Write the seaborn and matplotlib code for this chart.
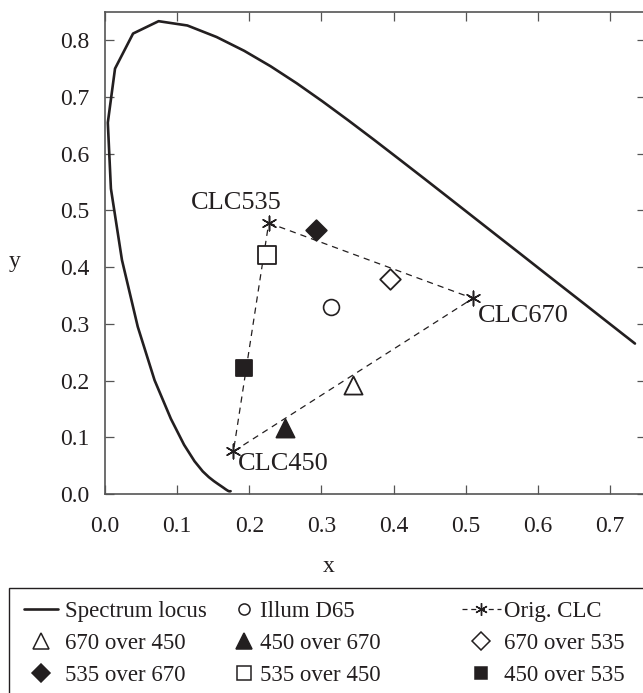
import matplotlib
matplotlib.use("Agg")
import matplotlib.pyplot as plt
from matplotlib.lines import Line2D
from matplotlib.patches import Rectangle
import seaborn as sns

# CIE 1931 spectrum locus (380-700 nm), as drawn
locus_x = [0.1741, 0.1738, 0.1733, 0.1726, 0.1714, 0.1703, 0.1689, 0.1669, 0.1644, 0.1611,
           0.1566, 0.1510, 0.1440, 0.1355, 0.1241, 0.1096, 0.0913, 0.0687, 0.0454, 0.0235,
           0.0082, 0.0039, 0.0139, 0.0389, 0.0743, 0.1142, 0.1547, 0.1929, 0.2296, 0.2658,
           0.3016, 0.3373, 0.3731, 0.4087, 0.4441, 0.4788, 0.5125, 0.5448, 0.5752, 0.6029,
           0.6270, 0.6658, 0.6915, 0.7079, 0.7190, 0.7260, 0.7300, 0.7334, 0.7347]
locus_y = [0.0050, 0.0049, 0.0048, 0.0048, 0.0051, 0.0058, 0.0069, 0.0086, 0.0109, 0.0138,
           0.0177, 0.0227, 0.0297, 0.0399, 0.0578, 0.0868, 0.1327, 0.2007, 0.2950, 0.4127,
           0.5384, 0.6548, 0.7502, 0.8120, 0.8338, 0.8262, 0.8059, 0.7816, 0.7543, 0.7243,
           0.6923, 0.6589, 0.6245, 0.5896, 0.5547, 0.5202, 0.4866, 0.4544, 0.4242, 0.3965,
           0.3725, 0.3340, 0.3083, 0.2920, 0.2809, 0.2740, 0.2700, 0.2666, 0.2653]

# original CLC primaries
clc_names = ["CLC535", "CLC670", "CLC450"]
clc_x = [0.227, 0.510, 0.178]
clc_y = [0.478, 0.345, 0.075]

d65_x = [0.313]
d65_y = [0.330]

# stacked combinations
combo_labels = ["670 over 450", "450 over 670", "670 over 535",
                "535 over 670", "535 over 450", "450 over 535"]
combo_x = [0.344, 0.249, 0.395, 0.293, 0.225, 0.193]
combo_y = [0.192, 0.116, 0.379, 0.466, 0.422, 0.223]

INK = "#231f20"
W, H = 643, 693
sns.set_theme(style="ticks")
plt.rcParams["font.family"] = ["Liberation Serif", "DejaVu Serif"]
plt.rcParams["text.color"] = INK

fig = plt.figure(figsize=(W / 100, H / 100), dpi=100)
ax = fig.add_axes([105 / W, 1 - 494 / H, (646 - 105) / W, (494 - 12) / H])

# spectrum locus
sns.lineplot(x=locus_x, y=locus_y, sort=False, estimator=None, color=INK,
             linewidth=1.9, ax=ax)
ax.lines[-1].set_solid_joinstyle("round")

# dashed triangle of the original CLCs
tri_x = clc_x + clc_x[:1]
tri_y = clc_y + clc_y[:1]
sns.lineplot(x=tri_x, y=tri_y, sort=False, estimator=None, color=INK,
             linewidth=0.9, ax=ax)
ax.lines[-1].set_linestyle((0, (5, 4)))

asterisk = (6, 2, 0)
sns.scatterplot(x=clc_x, y=clc_y, marker=asterisk, s=110, color=INK,
                linewidth=1.1, ax=ax, zorder=4)
sns.scatterplot(x=d65_x, y=d65_y, marker="o", s=130, facecolor="white",
                edgecolor=INK, linewidth=1.2, ax=ax, zorder=4)

combo_styles = [("^", "white", 170), ("^", INK, 170), ("D", "white", 110),
                ("D", INK, 110), ("s", "white", 160), ("s", INK, 130)]
for cx, cy, (m, fc, s) in zip(combo_x, combo_y, combo_styles):
    sns.scatterplot(x=[cx], y=[cy], marker=m, s=s, facecolor=fc,
                    edgecolor=INK, linewidth=1.3, ax=ax, zorder=4)

# labels at the CLC points
label_offsets = [(9, 14.5, "right"), (3.5, -12.5, "left"), (3, -9, "left")]
for name, px, py, (dx, dy, ha) in zip(clc_names, clc_x, clc_y, label_offsets):
    ax.annotate(name, (px, py), xytext=(dx, dy), textcoords="offset points",
                ha=ha, va="center", fontsize=19, color=INK)

ax.set_xlim(0, 0.75)
ax.set_ylim(0, 0.85)
ax.set_xticks([0.0, 0.1, 0.2, 0.3, 0.4, 0.5, 0.6, 0.7])
ax.set_yticks([0.0, 0.1, 0.2, 0.3, 0.4, 0.5, 0.6, 0.7, 0.8])
ax.set_xticklabels(["0.0", "0.1", "0.2", "0.3", "0.4", "0.5", "0.6", "0.7"])
ax.set_yticklabels(["0.0", "0.1", "0.2", "0.3", "0.4", "0.5", "0.6", "0.7", "0.8"])
ax.tick_params(direction="in", length=6.5, width=0.9, top=True, right=True,
               labelsize=17, colors="#555555", labelcolor=INK)
ax.tick_params(axis="x", pad=16)
ax.tick_params(axis="y", pad=11.5)
for sp in ax.spines.values():
    sp.set_color("#555555")
    sp.set_linewidth(1.2)
ax.set_xlabel("x", fontsize=17, color=INK)
ax.set_ylabel("y", fontsize=17, color=INK, rotation=0)
ax.xaxis.label.set_va("center")
ax.yaxis.label.set_va("center")
ax.yaxis.label.set_ha("center")
ax.xaxis.set_label_coords((329 - 105) / 541, (494 - 567) / 482)
ax.yaxis.set_label_coords((15 - 105) / 541, (494 - 262) / 482)

# legend: three columns placed by hand inside one frame
h_locus = Line2D([], [], color=INK, linewidth=1.9)
h_d65 = Line2D([], [], linestyle="none", marker="o", markersize=8,
               markerfacecolor="white", markeredgecolor=INK, markeredgewidth=1.1)
h_clc = Line2D([], [], color=INK, linewidth=0.9, linestyle=(0, (4, 3)),
               marker=asterisk, markersize=9, markeredgewidth=1.0)


def combo_handle(m, fc, ms):
    return Line2D([], [], linestyle="none", marker=m, markersize=ms,
                  markerfacecolor=fc, markeredgecolor=INK, markeredgewidth=1.1)


h_combo = [combo_handle("^", "white", 11), combo_handle("^", INK, 11),
           combo_handle("D", "white", 9), combo_handle("D", INK, 9),
           combo_handle("s", "white", 10), combo_handle("s", INK, 9)]

columns = [
    ([h_locus, h_combo[0], h_combo[3]],
     ["Spectrum locus", combo_labels[0], combo_labels[3]], 24, 1.5, 0.3),
    ([h_d65, h_combo[1], h_combo[4]],
     ["Illum D65", combo_labels[1], combo_labels[4]], 233, 1.0, 0.17),
    ([h_clc, h_combo[2], h_combo[5]],
     ["Orig. CLC", combo_labels[2], combo_labels[5]], 462, 1.7, 0.13),
]
for hs, ls, x0, hl, hp in columns:
    leg = fig.legend(hs, ls, loc="upper left", bbox_to_anchor=(x0 / W, 1 - 601 / H),
                     ncol=1, fontsize=16.5, frameon=False, borderaxespad=0,
                     borderpad=0, handlelength=hl, handletextpad=hp,
                     labelspacing=0.47)

fig.patches.append(Rectangle((9 / W, -0.05), 1.0, 1 - 588 / H + 0.05,
                             transform=fig.transFigure, fill=False,
                             edgecolor=INK, linewidth=1.0))

fig.savefig("out.png", dpi=100)
